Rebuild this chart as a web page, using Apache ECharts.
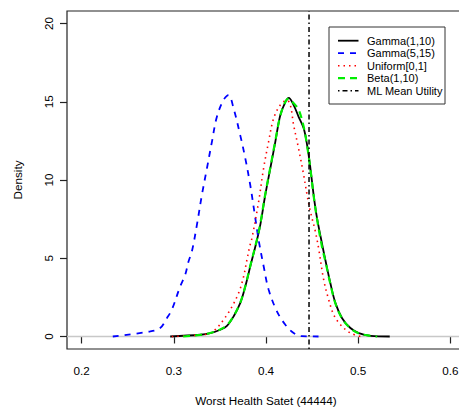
<!DOCTYPE html>
<html>
<head>
<meta charset="utf-8">
<script src="https://cdn.jsdelivr.net/npm/echarts@6/dist/echarts.min.js"></script>
<style>
  html, body { margin: 0; padding: 0; background: #fff; }
  #chart { width: 459px; height: 407px; }
</style>
</head>
<body>
<div id="chart"></div>
<script>
// Posterior density estimates of the worst health state utility under four priors
const gamma110X = [0.296, 0.3286, 0.3395, 0.3503, 0.3576, 0.3648, 0.372, 0.3775, 0.3829, 0.3902, 0.3938, 0.3992, 0.4047, 0.4101, 0.4155, 0.421, 0.4246, 0.430, 0.4354, 0.4409, 0.4446, 0.4482, 0.4517, 0.4554, 0.4609, 0.4645, 0.4699, 0.4754, 0.4826, 0.4916, 0.5007, 0.5134, 0.5343];
const gamma110Y = [0, 0.11, 0.21, 0.43, 0.68, 1.28, 2.13, 3.19, 4.47, 6.17, 7.13, 9.04, 10.75, 12.44, 14.14, 14.98, 15.25, 14.79, 14.04, 13.3, 12.24, 10.75, 9.04, 7.56, 5.9, 4.87, 3.4, 2.13, 1.17, 0.54, 0.22, 0.04, 0];

const gamma515X = [0.2337, 0.2742, 0.2851, 0.2924, 0.2978, 0.3068, 0.3123, 0.3159, 0.3196, 0.325, 0.3304, 0.3359, 0.3413, 0.3467, 0.3539, 0.3593, 0.3648, 0.372, 0.3775, 0.3829, 0.3884, 0.392, 0.3975, 0.4029, 0.412, 0.421, 0.430, 0.439, 0.457];
const gamma515Y = [0, 0.32, 0.54, 1.17, 1.71, 3.19, 3.94, 4.79, 5.45, 7.13, 9.04, 10.75, 12.44, 14.04, 15.11, 15.43, 14.58, 12.87, 11.39, 9.68, 7.56, 6.17, 4.47, 2.98, 1.59, 0.75, 0.22, 0.02, 0];

const uniformX = [0.2978, 0.3286, 0.3395, 0.3467, 0.3539, 0.3612, 0.3702, 0.3757, 0.3793, 0.3822, 0.3848, 0.392, 0.3974, 0.4028, 0.4083, 0.4155, 0.4228, 0.4264, 0.430, 0.4354, 0.4409, 0.4446, 0.4482, 0.4536, 0.4572, 0.4626, 0.4681, 0.4736, 0.4808, 0.4916, 0.5025];
const uniformY = [0, 0.1, 0.22, 0.54, 1.07, 1.71, 2.77, 3.83, 4.9, 5.72, 6.3, 8.61, 10.75, 12.44, 13.94, 14.79, 15.1, 14.79, 13.51, 12.0, 10.32, 9.04, 7.98, 6.7, 5.6, 3.63, 2.34, 1.38, 0.75, 0.22, 0];

const betaX = [0.310, 0.3286, 0.3395, 0.3503, 0.3576, 0.3648, 0.372, 0.3775, 0.3829, 0.3902, 0.3938, 0.3992, 0.4047, 0.4101, 0.4155, 0.421, 0.4246, 0.430, 0.4354, 0.4409, 0.4446, 0.4482, 0.4517, 0.4554, 0.4609, 0.4645, 0.4699, 0.4754, 0.4826, 0.4916, 0.5007, 0.5134, 0.5207];
const betaY = [0, 0.1, 0.22, 0.45, 0.72, 1.3, 2.15, 3.2, 4.5, 6.2, 7.2, 9.1, 10.8, 12.5, 14.1, 15.0, 15.2, 14.9, 14.5, 13.4, 12.2, 10.7, 9.0, 7.5, 5.7, 4.8, 3.35, 2.1, 1.15, 0.52, 0.2, 0.04, 0];

const mlMeanUtility = 0.4467;

const xTicks = [0.2, 0.3, 0.4, 0.5, 0.6];
const yTicks = [0, 5, 10, 15, 20];
const xRange = [0.184, 0.616];
const yRange = [-0.8, 20.8];

const seriesNames = ['Gamma(1,10)', 'Gamma(5,15)', 'Uniform[0,1]', 'Beta(1,10)', 'ML Mean Utility'];

const pairs = (xs, ys) => xs.map((x, i) => [x, ys[i]]);

const font = 'Liberation Sans, Arial, Helvetica, sans-serif';

// line appearance for each series, shared by the plot and the key box
const styles = [
  { color: '#000000', width: 1.8, type: 'solid' },
  { color: '#0000ff', width: 1.8, type: [6, 6] },
  { color: '#ff0000', width: 1.6, type: [1.5, 4] },
  { color: '#00ee00', width: 2.2, type: [7, 5] },
  { color: '#000000', width: 1.5, type: [1.5, 3, 5, 3] }
];

const chart = echarts.init(document.getElementById('chart'), null, { renderer: 'svg' });

const curve = (i, xs, ys) => ({
  name: seriesNames[i],
  type: 'line',
  data: pairs(xs, ys),
  showSymbol: false,
  symbol: 'none',
  smooth: 0.35,
  lineStyle: styles[i],
  itemStyle: { color: styles[i].color }
});

// key box drawn in the top-right corner of the plot
const keyBox = { x: 329, y: 27, w: 116, h: 77 };
const keyRow0 = 40.7, keyRowStep = 12.5;
const keyItems = [{
  type: 'rect',
  shape: { x: keyBox.x, y: keyBox.y, width: keyBox.w, height: keyBox.h },
  style: { fill: '#fff', stroke: '#333', lineWidth: 1 },
  z: 100
}];
seriesNames.forEach((name, i) => {
  const y = keyRow0 + i * keyRowStep;
  keyItems.push({
    type: 'line',
    shape: { x1: 338, y1: y, x2: 358.5, y2: y },
    style: { stroke: styles[i].color, lineWidth: styles[i].width, lineDash: styles[i].type === 'solid' ? null : styles[i].type },
    z: 101
  });
  keyItems.push({
    type: 'text',
    x: 367, y: y,
    style: { text: name, font: '11px ' + font, fill: '#000', textVerticalAlign: 'middle', verticalAlign: 'middle' },
    z: 101
  });
});

chart.setOption({
  animation: false,
  backgroundColor: '#ffffff',
  textStyle: { fontFamily: font },
  grid: {
    left: 67, top: 11, width: 398, height: 338,
    outerBoundsMode: 'none',
    containLabel: false,
    show: true, borderColor: '#222', borderWidth: 1.2,
    backgroundColor: 'transparent'
  },
  xAxis: {
    type: 'value',
    min: xRange[0], max: xRange[1],
    name: 'Worst Health Satet (44444)',
    nameLocation: 'middle',
    nameGap: 45,
    nameTextStyle: { fontFamily: font, fontSize: 11.7, color: '#000' },
    axisLine: { show: false },
    axisTick: { show: true, length: 7, lineStyle: { color: '#222', width: 1.2 }, customValues: xTicks },
    axisLabel: { customValues: xTicks, fontFamily: font, fontSize: 11.7, color: '#000', margin: 15,
      formatter: v => v.toFixed(1) },
    splitLine: { show: false }
  },
  yAxis: {
    type: 'value',
    min: yRange[0], max: yRange[1],
    name: 'Density',
    nameLocation: 'middle',
    nameGap: 44,
    nameRotate: 90,
    nameTextStyle: { fontFamily: font, fontSize: 11.7, color: '#000' },
    axisLine: { show: false },
    axisTick: { show: true, length: 7, lineStyle: { color: '#222', width: 1.2 }, customValues: yTicks },
    axisLabel: { customValues: yTicks, rotate: 90, fontFamily: font, fontSize: 11.7, color: '#000', margin: 13 },
    splitLine: { show: false }
  },
  graphic: keyItems,
  series: [
    {
      name: 'zero',
      type: 'line',
      data: [[xRange[0], 0], [xRange[1], 0]],
      symbol: 'none',
      silent: true,
      lineStyle: { color: '#c8c8c8', width: 1.5 }
    },
    curve(0, gamma110X, gamma110Y),
    curve(1, gamma515X, gamma515Y),
    curve(2, uniformX, uniformY),
    curve(3, betaX, betaY),
    {
      name: seriesNames[4],
      type: 'line',
      data: [[mlMeanUtility, yRange[0]], [mlMeanUtility, yRange[1]]],
      symbol: 'none',
      lineStyle: styles[4],
      itemStyle: { color: '#000' }
    }
  ]
});
</script>
</body>
</html>
